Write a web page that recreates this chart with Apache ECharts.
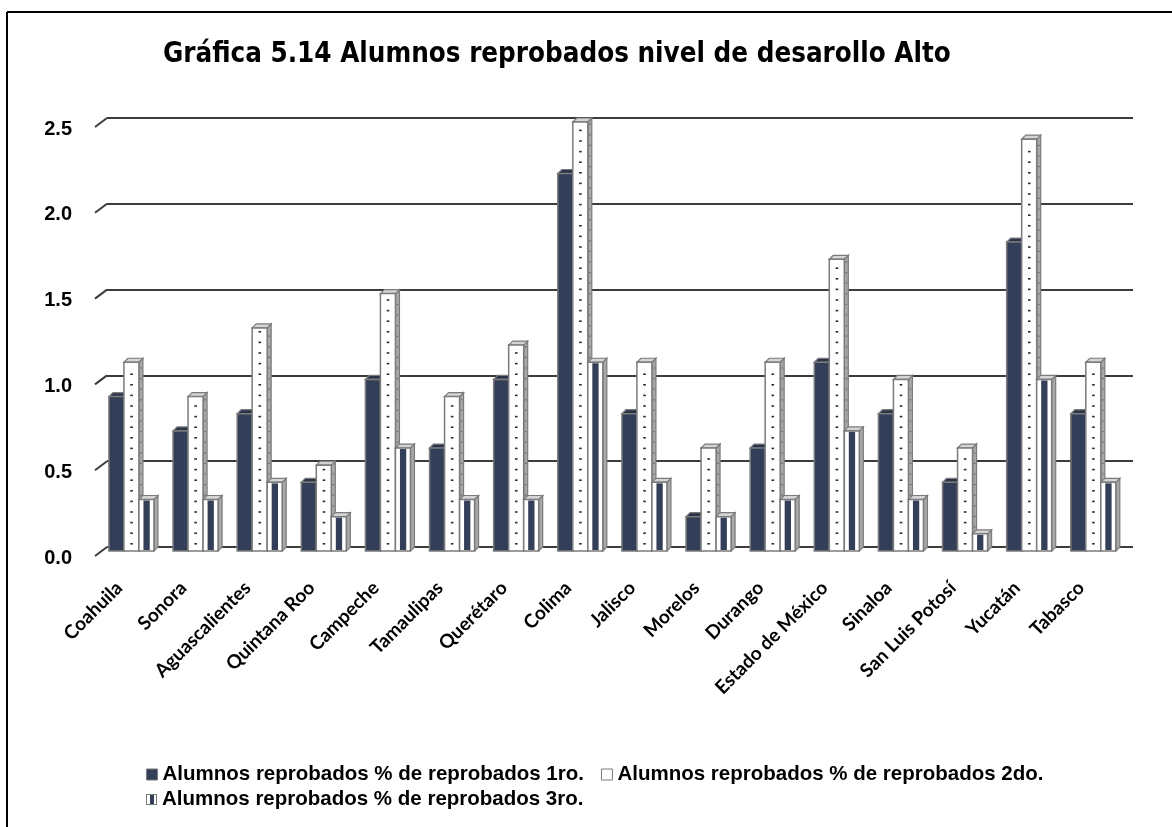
<!DOCTYPE html>
<html>
<head>
<meta charset="utf-8">
<script src="https://cdn.jsdelivr.net/npm/echarts@6/dist/echarts.min.js"></script>
<style>
  html, body { margin: 0; padding: 0; background: #fff; }
  #chart { width: 1172px; height: 827px; }
</style>
</head>
<body>
<div id="chart"></div>
<script>
// datos
var categories = ['Coahuila', 'Sonora', 'Aguascalientes', 'Quintana Roo', 'Campeche', 'Tamaulipas',
  'Querétaro', 'Colima', 'Jalisco', 'Morelos', 'Durango', 'Estado de México', 'Sinaloa',
  'San Luis Potosí', 'Yucatán', 'Tabasco']
var seriesNames = [
  'Alumnos reprobados % de reprobados 1ro.',
  'Alumnos reprobados % de reprobados 2do.',
  'Alumnos reprobados % de reprobados 3ro.'
]
var values1ro = [0.9, 0.7, 0.8, 0.4, 1.0, 0.6, 1.0, 2.2, 0.8, 0.2, 0.6, 1.1, 0.8, 0.4, 1.8, 0.8]
var values2do = [1.1, 0.9, 1.3, 0.5, 1.5, 0.9, 1.2, 2.5, 1.1, 0.6, 1.1, 1.7, 1.0, 0.6, 2.4, 1.1]
var values3ro = [0.3, 0.3, 0.4, 0.2, 0.6, 0.3, 0.3, 1.1, 0.4, 0.2, 0.3, 0.7, 0.3, 0.1, 1.0, 0.4]
var yTicks = [0, 0.5, 1.0, 1.5, 2.0, 2.5]

var NAVY = '#333f58'
var EDGE = '#7b7b7b'
var SIDE = '#a8a8a8'
var TOP = '#d4d4d4'

var chart = echarts.init(document.getElementById('chart'))

// barra 3D: cara frontal, lateral y superior
function bar3d (s) {
  return function (params, api) {
    var idx = api.value(0)
    var top = api.coord([idx, api.value(1)])
    var base = api.coord([idx, 0])
    var band = api.size([1, 0])[0]
    var w = band * 0.234
    var dx = 4
    var dy = 4
    var drop = 4
    var x0 = top[0] - band * 0.47 + s * w
    var x1 = x0 + w
    var yt = top[1] + drop
    var yb = base[1] + drop
    var kids = []
    var sideFill = s === 0 ? '#2a344a' : SIDE
    // lateral
    kids.push({
      type: 'polygon',
      shape: { points: [[x1, yt], [x1 + dx, yt - dy], [x1 + dx, yb - dy], [x1, yb]] },
      style: { fill: sideFill, stroke: EDGE, lineWidth: 1.2 }
    })
    // superior
    kids.push({
      type: 'polygon',
      shape: { points: [[x0, yt], [x0 + dx, yt - dy], [x1 + dx, yt - dy], [x1, yt]] },
      style: { fill: s === 0 ? '#2a344a' : TOP, stroke: EDGE, lineWidth: 1.2 }
    })
    if (s === 0) {
      kids.push({
        type: 'rect',
        shape: { x: x0, y: yt, width: w, height: yb - yt },
        style: { fill: NAVY, stroke: EDGE, lineWidth: 1.5 }
      })
    } else if (s === 1) {
      kids.push({
        type: 'rect',
        shape: { x: x0, y: yt, width: w, height: yb - yt },
        style: { fill: '#ffffff', stroke: EDGE, lineWidth: 1.5 }
      })
      // puntos de la trama
      for (var y = yb - 7; y > yt + 4; y -= 10.6) {
        kids.push({
          type: 'rect',
          shape: { x: x0 + w / 2 - 1.2, y: y - 1, width: 2.6, height: 1.6 },
          style: { fill: '#2b2b2b' }
        })
        if (y - 5 > yt + 3) {
          kids.push({
            type: 'rect',
            shape: { x: x1 + dx / 2 - 0.6, y: y - 5 - dy / 2, width: 1.2, height: 1.2 },
            style: { fill: '#555555' }
          })
        }
      }
    } else {
      kids.push({
        type: 'rect',
        shape: { x: x0, y: yt, width: w, height: yb - yt },
        style: { fill: '#ffffff', stroke: EDGE, lineWidth: 1.5 }
      })
      kids.push({
        type: 'rect',
        shape: { x: x0 + w * 0.3, y: yt + 1, width: w * 0.42, height: yb - yt - 2 },
        style: { fill: NAVY }
      })
    }
    return { type: 'group', children: kids }
  }
}

function toData (arr) {
  return arr.map(function (v, i) { return [i, v] })
}

var stripeIcon = 'image://data:image/svg+xml;base64,' + btoa(
  '<svg xmlns="http://www.w3.org/2000/svg" width="11" height="11">' +
  '<rect x="0.5" y="0.5" width="10" height="10" fill="#fff" stroke="#7b7b7b"/>' +
  '<rect x="4" y="1" width="4" height="9" fill="#333f58"/></svg>')

var legendText = { fontFamily: 'Liberation Sans, Arial, sans-serif', fontWeight: 'bold', fontSize: 20.5, color: '#000' }

var option = {
  animation: false,
  backgroundColor: '#ffffff',
  title: {
    text: 'Gráfica 5.14 Alumnos reprobados nivel de desarollo Alto',
    left: 158,
    top: 36,
    textStyle: {
      fontFamily: 'Liberation Sans Narrow, DejaVu Sans Condensed, sans-serif',
      fontWeight: 'bold',
      fontSize: 27.5,
      color: '#000'
    }
  },
  legend: [
    {
      data: [
        { name: seriesNames[0], icon: 'rect', itemStyle: { color: NAVY, borderColor: EDGE, borderWidth: 1 } },
        { name: seriesNames[1], icon: 'rect', itemStyle: { color: '#fff', borderColor: EDGE, borderWidth: 1 } }
      ],
      left: 141,
      top: 759,
      itemWidth: 11,
      itemHeight: 11,
      itemGap: 17,
      textStyle: legendText
    },
    {
      data: [
        { name: seriesNames[2], icon: stripeIcon }
      ],
      left: 141,
      top: 784,
      itemWidth: 11,
      itemHeight: 11,
      textStyle: legendText
    }
  ],
  grid: {
    left: 107,
    right: 39,
    top: 118,
    bottom: 280
  },
  xAxis: {
    type: 'category',
    data: categories,
    axisLine: { show: false },
    axisTick: { show: false },
    axisLabel: {
      interval: 0,
      rotate: 45,
      margin: 18,
      padding: [0, 28, 0, 0],
      fontFamily: 'Lato, Open Sans, sans-serif',
      fontWeight: 'bold',
      fontSize: 19,
      color: '#000'
    }
  },
  yAxis: {
    type: 'value',
    min: 0,
    max: 2.5,
    interval: 0.5,
    axisLine: { show: false },
    axisTick: { show: false },
    splitLine: { lineStyle: { color: '#3c3c3c', width: 2 } },
    axisLabel: {
      margin: 35,
      verticalAlign: 'top',
      lineHeight: 22,
      formatter: function (v) { return v.toFixed(1) },
      fontFamily: 'Liberation Sans, Arial, sans-serif',
      fontWeight: 'bold',
      fontSize: 20,
      color: '#000'
    }
  },
  graphic: [
    { type: 'line', shape: { x1: 7, y1: 12, x2: 1172, y2: 12 }, style: { stroke: '#000', lineWidth: 2 } },
    { type: 'line', shape: { x1: 7, y1: 12, x2: 7, y2: 827 }, style: { stroke: '#000', lineWidth: 2 } }
  ],
  series: [
    {
      // diagonales del plano 3D en cada linea de la rejilla
      type: 'custom',
      name: 'rejilla',
      silent: true,
      data: yTicks.map(function (v) { return [0, v] }),
      encode: { x: 0, y: 1 },
      renderItem: function (params, api) {
        var p = api.coord([0, api.value(1)])
        var x = params.coordSys.x
        return {
          type: 'line',
          shape: { x1: x - 12, y1: p[1] + 9, x2: x, y2: p[1] },
          style: { stroke: '#3c3c3c', lineWidth: 2 }
        }
      }
    },
    { type: 'custom', name: seriesNames[0], data: toData(values1ro), encode: { x: 0, y: 1 }, renderItem: bar3d(0) },
    { type: 'custom', name: seriesNames[1], data: toData(values2do), encode: { x: 0, y: 1 }, renderItem: bar3d(1) },
    { type: 'custom', name: seriesNames[2], data: toData(values3ro), encode: { x: 0, y: 1 }, renderItem: bar3d(2) }
  ]
}
chart.setOption(option)
</script>
</body>
</html>
